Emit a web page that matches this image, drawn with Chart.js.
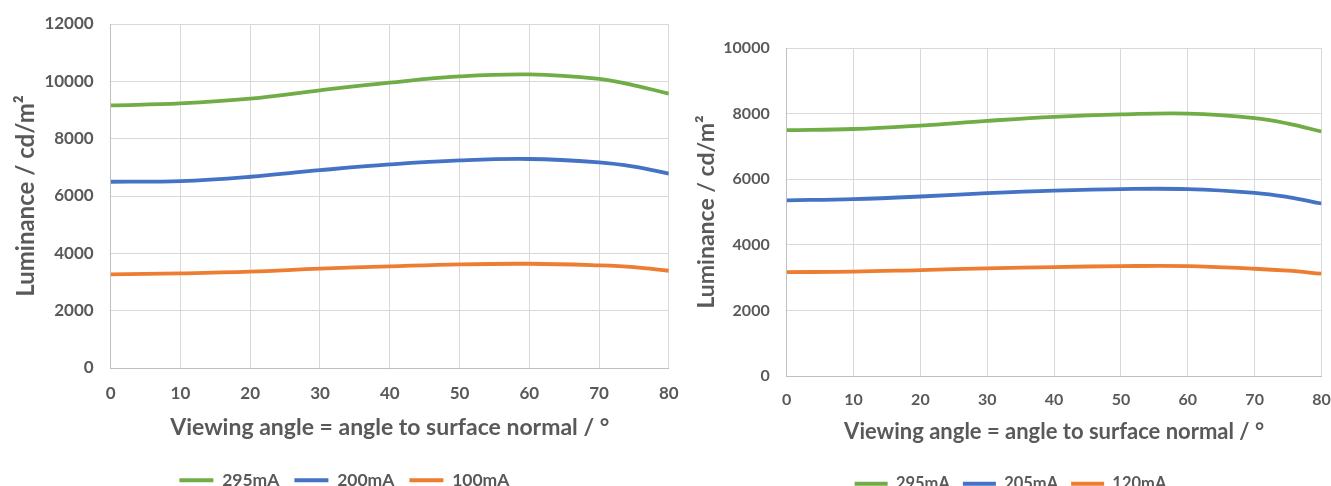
<!DOCTYPE html>
<html><head><meta charset="utf-8">
<script src="https://cdn.jsdelivr.net/npm/chart.js@4/dist/chart.umd.min.js"></script>
<style>
html,body{margin:0;padding:0;background:#fff;width:1331px;height:486px;overflow:hidden;position:relative}
#w1{position:absolute;left:0;top:0;width:690px;height:499px}
#w2{position:absolute;left:690px;top:0;width:641px;height:502px}
</style></head><body>
<div id="w1"><canvas id="c1"></canvas></div>
<div id="w2"><canvas id="c2"></canvas></div>
<script>
const angles = [0, 10, 20, 30, 40, 50, 60, 70, 75, 80];
const xTicks = [0, 10, 20, 30, 40, 50, 60, 70, 80];

const leftLabels = ['295mA', '200mA', '100mA'];
const left295 = [9160, 9230, 9395, 9685, 9955, 10170, 10240, 10085, 9860, 9570];
const left200 = [6497, 6520, 6671, 6900, 7100, 7241, 7290, 7170, 7021, 6780];
const left100 = [3266, 3300, 3360, 3465, 3545, 3615, 3636, 3580, 3520, 3392];
const leftYTicks = [0, 2000, 4000, 6000, 8000, 10000, 12000];

const rightLabels = ['295mA', '205mA', '120mA'];
const right295 = [7496, 7530, 7636, 7778, 7900, 7975, 8000, 7865, 7696, 7454];
const right205 = [5355, 5393, 5472, 5575, 5654, 5700, 5698, 5585, 5454, 5259];
const right120 = [3168, 3180, 3230, 3280, 3320, 3350, 3350, 3270, 3210, 3120];
const rightYTicks = [0, 2000, 4000, 6000, 8000, 10000];

const colors = ['#70AD47', '#4472C4', '#ED7D31'];
const textColor = '#595959';
const FONT = 'Lato';

function ds(label, vals, color) {
  return {
    label, data: angles.map((a, i) => ({x: a, y: vals[i]})),
    borderColor: color, backgroundColor: color, borderWidth: 3.8,
    pointRadius: 0, tension: 0.4, fill: false
  };
}

function make(id, labels, series, yTicks, g) {
  const yMax = yTicks[yTicks.length - 1];
  return new Chart(document.getElementById(id), {
    type: 'line',
    data: { datasets: series.map((s, i) => ds(labels[i], s, colors[i])) },
    options: {
      responsive: true, maintainAspectRatio: false, animation: false,
      layout: { padding: { left: g.padL, right: g.padR, top: g.padT, bottom: 0 } },
      plugins: {
        tooltip: { enabled: false },
        legend: {
          position: 'bottom',
          labels: {
            color: textColor, font: { family: FONT, size: g.legFs, weight: '700' },
            boxWidth: g.boxW, boxHeight: 4, padding: g.legPad,
            generateLabels(chart) {
              const items = Chart.defaults.plugins.legend.labels.generateLabels(chart);
              items.forEach(it => { it.lineWidth = 0; });
              return items;
            }
          }
        }
      },
      scales: {
        x: {
          type: 'linear', min: 0, max: 80,
          afterBuildTicks: s => { s.ticks = xTicks.map(v => ({value: v})); },
          afterFit: s => { s.height = g.xH; s.paddingLeft = 0; s.paddingRight = 0; },
          grid: { color: '#D9D9D9', lineWidth: 1, drawTicks: false },
          border: { color: '#BFBFBF' },
          ticks: { color: textColor, font: { family: FONT, size: g.tickFs, weight: '700' }, padding: g.xTickPad,
                   maxRotation: 0, callback: v => String(v) },
          title: { display: true, text: 'Viewing angle = angle to surface normal / °', color: textColor,
                   font: { family: FONT, size: g.xTitleFs, weight: '700' }, padding: { top: 0, bottom: g.xTitlePad } }
        },
        y: {
          min: 0, max: yMax,
          afterBuildTicks: s => { s.ticks = yTicks.map(v => ({value: v})); },
          afterFit: s => { s.width = g.yW; s.paddingTop = 0; s.paddingBottom = 0; },
          grid: { color: '#D9D9D9', lineWidth: 1, drawTicks: false },
          border: { color: '#BFBFBF' },
          ticks: { color: textColor, font: { family: FONT, size: g.tickFs, weight: '700' }, padding: 17,
                   callback: v => String(v) },
          title: { display: true, text: 'Luminance / cd/m²', color: textColor,
                   font: { family: FONT, size: g.yTitleFs, weight: '700' }, padding: { top: g.yTitlePad, bottom: 0 } }
        }
      }
    }
  });
}

make('c1', leftLabels, [left295, left200, left100], leftYTicks,
  { padL: 20, padR: 21.2, padT: 24, xH: 88.5, xTickPad: 15.8, xTitlePad: 14.7, yW: 90.7, yTitlePad: -8,
    tickFs: 17, xTitleFs: 23, yTitleFs: 24, legFs: 17.5, boxW: 34, legPad: 15 });
make('c2', rightLabels, [right295, right205, right120], rightYTicks,
  { padL: 9.5, padR: 9.5, padT: 48, xH: 86.5, xTickPad: 13.9, xTitlePad: 17, yW: 87.2, yTitlePad: -7,
    tickFs: 16, xTitleFs: 22, yTitleFs: 23, legFs: 16.5, boxW: 33, legPad: 13 });
</script>
</body></html>
